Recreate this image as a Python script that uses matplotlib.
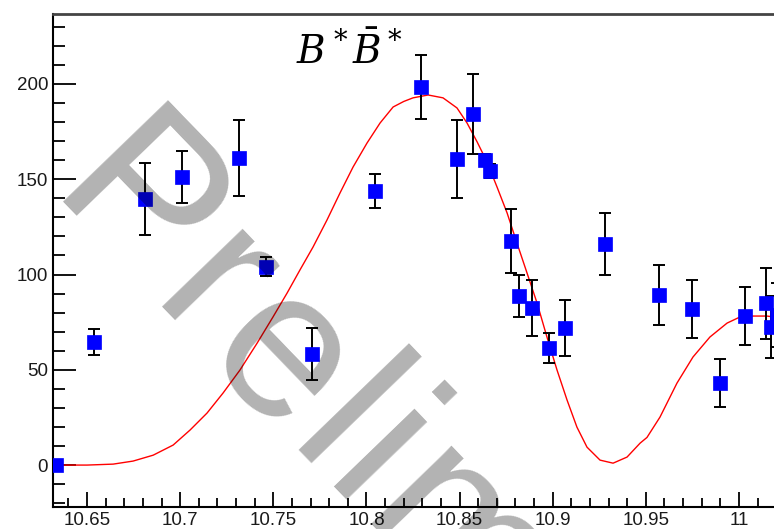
import numpy as np
import matplotlib
matplotlib.use("Agg")
import matplotlib.pyplot as plt
from matplotlib.font_manager import FontProperties
from matplotlib.ticker import MultipleLocator, FixedLocator, FixedFormatter

plt.rcParams["font.family"] = ["Liberation Sans", "DejaVu Sans"]
plt.rcParams["mathtext.fontset"] = "dejavuserif"

# Cross section scan points (sqrt(s) in GeV) with symmetric errors
energy = [10.6333, 10.6538, 10.6811, 10.7010, 10.7316, 10.7461, 10.7708,
          10.8046, 10.8293, 10.8486, 10.8572, 10.8636, 10.8663, 10.8776,
          10.8819, 10.8889, 10.8980, 10.9066, 10.9281, 10.9571, 10.9748,
          10.9898, 11.0032, 11.0145, 11.0172, 11.0205]
xsec = [0.0, 64.6, 139.6, 151.2, 161.2, 104.0, 58.3,
        143.8, 198.4, 160.6, 184.2, 160.0, 154.3, 117.6,
        88.7, 82.4, 61.4, 71.9, 116.0, 89.2, 81.9,
        43.0, 78.2, 85.0, 72.4, 78.7]
xsec_err = [0.0, 7.0, 19.0, 13.5, 20.0, 5.0, 13.5,
            9.0, 17.0, 20.7, 21.0, 3.0, 3.5, 17.0,
            11.0, 14.7, 8.0, 14.7, 16.5, 15.7, 15.2,
            12.6, 15.2, 18.6, 16.3, 17.0]

# Fitted line shape
fit_x = [10.6317, 10.6500, 10.6640, 10.6747, 10.6855, 10.6962, 10.7053,
         10.7144, 10.7230, 10.7321, 10.7413, 10.7498, 10.7574, 10.7643,
         10.7713, 10.7788, 10.7858, 10.7928, 10.8003, 10.8073, 10.8143,
         10.8200, 10.8250, 10.8331, 10.8411, 10.8486, 10.8540, 10.8594,
         10.8647, 10.8701, 10.8755, 10.8808, 10.8862, 10.8916, 10.8969,
         10.9023, 10.9077, 10.9130, 10.9184, 10.9254, 10.9324, 10.9399,
         10.9469, 10.9506, 10.9576, 10.9667, 10.9753, 10.9844, 10.9936,
         11.0005, 11.0075, 11.0150, 11.0188]
fit_y = [0.0, 0.0, 0.5, 2.1, 5.2, 10.5, 18.4,
         27.3, 37.8, 49.9, 64.0, 77.7, 90.3, 102.4,
         114.4, 128.6, 142.8, 156.4, 169.0, 179.5, 187.9,
         190.8, 192.7, 194.2, 192.7, 187.4, 179.5, 169.6,
         159.1, 145.9, 132.3, 116.5, 100.8, 85.0, 67.2,
         49.9, 34.1, 19.9, 9.4, 2.6, 1.0, 4.2,
         11.5, 14.5, 25.2, 43.0, 56.7, 67.2, 74.5,
         77.7, 78.2, 78.2, 77.7]

x_major = [10.65, 10.7, 10.75, 10.8, 10.85, 10.9, 10.95, 11.0]
x_labels = ["10.65", "10.7", "10.75", "10.8", "10.85", "10.9", "10.95", "11"]
y_major = [0, 50, 100, 150, 200]
y_labels = ["0", "50", "100", "150", "200"]

W, H = 774, 529
fig = plt.figure(figsize=(W / 100, H / 100), dpi=100)
ax = fig.add_axes([53 / W, 22 / H, (W - 53) / W, (507 - 14) / H])

ax.plot(fit_x, fit_y, color="#ff0000", lw=1.0, zorder=2)
ax.errorbar(energy, xsec, yerr=xsec_err, fmt="none", ecolor="black",
            elinewidth=1.4, capsize=4, capthick=1.4, zorder=3)
ax.plot(energy, xsec, ls="none", marker="s", ms=9.5, mfc="#0000ff",
        mec="#0000ff", mew=0.5, zorder=4)

ax.set_xlim(10.6317, 11.0188)
ax.set_ylim(-22.0, 236.7)

ax.xaxis.set_major_locator(FixedLocator(x_major))
ax.xaxis.set_major_formatter(FixedFormatter(x_labels))
ax.xaxis.set_minor_locator(MultipleLocator(0.01))
ax.yaxis.set_major_locator(FixedLocator(y_major))
ax.yaxis.set_major_formatter(FixedFormatter(y_labels))
ax.yaxis.set_minor_locator(MultipleLocator(10))

ax.tick_params(axis="x", which="major", direction="in", length=11, width=1.3,
               labelsize=13.5, pad=3.5, colors="black")
ax.tick_params(axis="x", which="minor", direction="in", length=6.5, width=1.3)
ax.tick_params(axis="y", which="major", direction="in", length=16.5, width=1.3,
               labelsize=13.5, pad=3.5, colors="black")
ax.tick_params(axis="y", which="minor", direction="in", length=8.5, width=1.3)
for lab in ax.get_xticklabels() + ax.get_yticklabels():
    lab.set_color("#1a1a1a")

ax.spines["right"].set_visible(False)
ax.spines["left"].set_linewidth(1.5)
ax.spines["bottom"].set_linewidth(1.5)
ax.spines["top"].set_linewidth(2.0)
ax.spines["top"].set_color("#444444")

# Channel label
fig.text(349 / W, 1 - 64 / H, r"$B^*\bar{B}^*$", fontsize=28,
         ha="center", va="baseline", color="black")

# Preliminary stamp, set letter by letter with a little extra tracking
stamp = "Preliminary"
stamp_font = FontProperties(family="Liberation Sans", size=152)
angle = -46.0
ux, uy = np.cos(np.deg2rad(angle)), np.sin(np.deg2rad(angle))
x0, y0 = 45.0, H - 201.0
tracking = 5.0
renderer = fig.canvas.get_renderer()
for k, ch in enumerate(stamp):
    if k == 0:
        adv = 0.0
    else:
        adv, _, _ = renderer.get_text_width_height_descent(stamp[:k], stamp_font,
                                                           ismath=False)
    d = adv + k * tracking
    fig.text((x0 + d * ux) / W, (y0 + d * uy) / H, ch,
             fontproperties=stamp_font, color="black", alpha=0.3,
             rotation=angle, rotation_mode="anchor", ha="left",
             va="baseline", zorder=10)

fig.savefig("out.png", dpi=100)
